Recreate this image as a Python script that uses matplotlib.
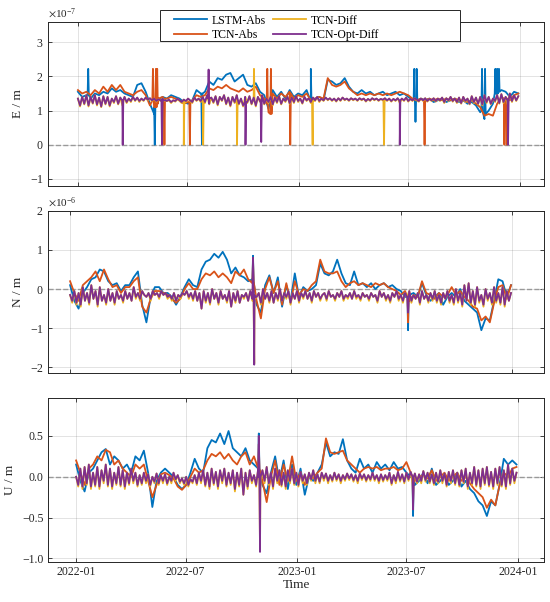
import numpy as np
import pandas as pd
import matplotlib
matplotlib.use("Agg")
import matplotlib.pyplot as plt
import matplotlib.dates as mdates
from matplotlib.ticker import ScalarFormatter
from matplotlib.patches import Rectangle

plt.rcParams['font.family'] = ['Liberation Serif', 'DejaVu Serif']
plt.rcParams['mathtext.fontset'] = 'stix'

# ---- data from 2022-01-01: Abs models weekly, Diff models every 3.5 days ----
labels = ['LSTM-Abs', 'TCN-Abs', 'TCN-Diff', 'TCN-Opt-Diff']
colors = ['#0072BD', '#D95319', '#EDB120', '#7E2F8E']
steps = [7, 7, 3.5, 3.5]

# E component, x 1e-7 m
e_lstm = [1.55, 1.40, 1.45, 1.35, 1.50, 1.45, 1.55, 1.50, 1.65, 1.55,
          1.60, 1.50, 1.45, 1.40, 1.75, 1.80, 1.55, 1.20, 0.90, 1.30,
          1.40, 1.35, 1.45, 1.40, 1.35, 1.25, 1.20, 1.30, 1.60, 1.50,
          1.55, 1.85, 1.75, 1.95, 1.90, 2.05, 2.10, 1.85, 1.95, 2.05,
          1.75, 1.70, 1.80, 1.55, 1.45, 1.05, 1.60, 1.40, 1.55, 1.35,
          1.60, 1.40, 1.50, 1.45, 1.60, 1.25, 1.35, 1.40, 1.30, 1.90,
          1.85, 1.75, 1.80, 1.95, 1.70, 1.55, 1.50, 1.60, 1.50, 1.55,
          1.45, 1.50, 1.55, 1.45, 1.50, 1.55, 1.45, 1.50, 1.40, 1.30,
          1.30, 1.35, 1.30, 1.35, 1.25, 1.30, 1.35, 1.25, 1.30, 1.35,
          1.25, 1.30, 1.20, 1.25, 1.15, 0.95, 0.75, 1.00, 1.20, 1.45,
          1.60, 1.55, 1.40, 1.55, 1.50]
e_tcn = [1.60, 1.50, 1.55, 1.45, 1.60, 1.50, 1.70, 1.55, 1.75, 1.60,
         1.75, 1.55, 1.50, 1.45, 1.55, 1.60, 1.45, 1.15, 1.10, 1.35,
         1.40, 1.35, 1.40, 1.35, 1.30, 1.20, 1.25, 1.30, 1.45, 1.40,
         1.45, 1.65, 1.60, 1.70, 1.65, 1.75, 1.65, 1.60, 1.55, 1.65,
         1.55, 1.60, 1.70, 1.45, 1.35, 0.95, 1.50, 1.35, 1.50, 1.40,
         1.55, 1.35, 1.45, 1.40, 1.50, 1.30, 1.35, 1.40, 1.35, 1.95,
         1.75, 1.70, 1.75, 1.85, 1.65, 1.55, 1.45, 1.50, 1.45, 1.50,
         1.45, 1.50, 1.45, 1.50, 1.45, 1.50, 1.55, 1.50, 1.45, 1.35,
         1.30, 1.35, 1.30, 1.35, 1.30, 1.35, 1.30, 1.35, 1.30, 1.35,
         1.30, 1.30, 1.25, 1.30, 1.20, 1.10, 0.85, 0.90, 0.85, 1.20,
         1.40, 1.35, 1.30, 1.45, 1.50]
e_diff = [1.35, 1.12, 1.40, 1.18, 1.45, 1.12, 1.40, 1.20, 1.45, 1.15,
          1.38, 1.10, 1.42, 1.18, 1.40, 1.12, 1.35, 1.22, 1.42, 1.18,
          1.38, 1.15, 1.40, 1.22, 1.35, 1.25, 1.40, 1.28, 1.38, 1.25,
          1.35, 1.28, 1.38, 1.30, 1.36, 1.28, 1.35, 1.26, 1.33, 1.28,
          1.35, 1.28, 1.28, 1.30, 1.22, 1.30, 1.26, 1.35, 1.28, 1.22,
          1.32, 1.25, 1.35, 1.28, 1.22, 1.38, 1.28, 1.35, 1.25, 1.40,
          1.22, 1.45, 1.18, 1.38, 1.22, 1.42, 1.15, 1.40, 1.28, 1.45,
          1.18, 1.38, 1.12, 1.40, 1.22, 1.45, 1.18, 1.35, 1.12, 1.40,
          1.22, 1.42, 1.18, 1.38, 1.12, 1.40, 1.25, 1.45, 1.18, 1.35,
          1.22, 1.40, 1.15, 1.38, 1.22, 1.42, 1.18, 1.35, 1.25, 1.40,
          1.20, 1.38, 1.22, 1.42, 1.25, 1.35, 1.20, 1.40, 1.28, 1.36,
          1.22, 1.38, 1.28, 1.40, 1.25, 1.35, 1.28, 1.38, 1.30, 1.36,
          1.28, 1.35, 1.26, 1.36, 1.28, 1.38, 1.30, 1.35, 1.28, 1.36,
          1.30, 1.35, 1.28, 1.36, 1.30, 1.35, 1.26, 1.34, 1.28, 1.36,
          1.30, 1.35, 1.28, 1.34, 1.30, 1.36, 1.28, 1.35, 1.26, 1.34,
          1.28, 1.36, 1.22, 1.35, 1.28, 1.38, 1.26, 1.34, 1.28, 1.36,
          1.30, 1.26, 1.35, 1.28, 1.36, 1.26, 1.34, 1.28, 1.36, 1.26,
          1.35, 1.28, 1.38, 1.22, 1.36, 1.28, 1.40, 1.26, 1.35, 1.22,
          1.38, 1.20, 1.40, 1.25, 1.35, 1.18, 1.42, 1.22, 1.38, 1.18,
          1.40, 1.15, 1.45, 1.22, 1.40, 1.18, 1.35, 1.25, 1.45, 1.20,
          1.48, 1.22, 1.40, 1.18, 1.50, 1.25, 1.45, 1.28, 1.42]
e_opt = [1.35, 1.15, 1.40, 1.20, 1.45, 1.15, 1.40, 1.22, 1.45, 1.18,
         1.38, 1.12, 1.42, 1.20, 1.40, 1.15, 1.35, 1.25, 1.42, 1.20,
         1.38, 1.18, 1.40, 1.25, 1.35, 1.28, 1.40, 1.30, 1.38, 1.28,
         1.35, 1.30, 1.38, 1.32, 1.36, 1.30, 1.35, 1.28, 1.33, 1.30,
         1.35, 1.30, 1.28, 1.32, 1.25, 1.30, 1.28, 1.35, 1.30, 1.25,
         1.32, 1.28, 1.35, 1.30, 1.25, 1.38, 1.30, 1.35, 1.28, 1.40,
         1.25, 1.45, 1.20, 1.38, 1.25, 1.42, 1.18, 1.40, 1.30, 1.45,
         1.20, 1.38, 1.15, 1.40, 1.25, 1.45, 1.20, 1.35, 1.15, 1.40,
         1.25, 1.42, 1.20, 1.38, 1.15, 1.40, 1.28, 1.45, 1.20, 1.35,
         1.25, 1.40, 1.18, 1.38, 1.25, 1.42, 1.20, 1.35, 1.28, 1.40,
         1.22, 1.38, 1.25, 1.42, 1.28, 1.35, 1.22, 1.40, 1.30, 1.36,
         1.25, 1.38, 1.30, 1.40, 1.28, 1.35, 1.30, 1.38, 1.32, 1.36,
         1.30, 1.35, 1.28, 1.36, 1.30, 1.38, 1.32, 1.35, 1.30, 1.36,
         1.32, 1.35, 1.30, 1.36, 1.32, 1.35, 1.28, 1.34, 1.30, 1.36,
         1.32, 1.35, 1.30, 1.34, 1.32, 1.36, 1.30, 1.35, 1.28, 1.34,
         1.30, 1.36, 1.25, 1.35, 1.30, 1.38, 1.28, 1.34, 1.30, 1.36,
         1.32, 1.28, 1.35, 1.30, 1.36, 1.28, 1.34, 1.30, 1.36, 1.28,
         1.35, 1.30, 1.38, 1.25, 1.36, 1.30, 1.40, 1.28, 1.35, 1.25,
         1.38, 1.22, 1.40, 1.28, 1.35, 1.20, 1.42, 1.25, 1.38, 1.20,
         1.40, 1.18, 1.45, 1.25, 1.40, 1.20, 1.35, 1.28, 1.45, 1.22,
         1.48, 1.25, 1.40, 1.20, 1.50, 1.28, 1.45, 1.30, 1.42]

# N component, x 1e-6 m
n_lstm = [0.10, -0.30, -0.50, -0.10, 0.05, 0.25, 0.30, 0.50, 0.45, 0.20,
          0.10, 0.15, -0.05, 0.10, 0.10, 0.30, 0.45, -0.40, -0.85, -0.20,
          0.05, 0.05, -0.10, -0.10, -0.20, -0.40, -0.20, 0.05, 0.25, 0.10,
          0.05, 0.50, 0.70, 0.75, 0.90, 0.80, 0.95, 0.75, 0.40, 0.55,
          0.35, 0.30, 0.20, 0.25, -0.40, -0.60, 0.10, 0.35, -0.10, 0.30,
          -0.45, 0.10, -0.30, 0.40, -0.20, 0.05, -0.05, 0.00, 0.10, 0.65,
          0.40, 0.35, 0.45, 0.75, 0.40, 0.15, 0.10, 0.45, 0.10, 0.15,
          0.05, 0.15, 0.00, 0.10, 0.15, 0.05, 0.10, 0.00, -0.05, -0.20,
          -0.15, -0.10, -0.20, 0.15, -0.15, -0.30, -0.20, -0.10, -0.40, -0.20,
          -0.10, -0.20, 0.00, -0.30, -0.40, -0.50, -0.60, -1.05, -0.75, -0.80,
          -0.30, 0.25, 0.20, -0.20, 0.10]
n_tcn = [0.20, -0.10, -0.30, 0.10, 0.20, 0.30, 0.45, 0.20, 0.50, 0.25,
         0.05, 0.10, -0.10, 0.05, 0.05, 0.20, 0.30, -0.45, -0.60, -0.25,
         -0.05, -0.05, -0.10, -0.15, -0.25, -0.35, -0.25, 0.00, 0.15, 0.00,
         0.00, 0.25, 0.40, 0.35, 0.45, 0.30, 0.40, 0.30, 0.15, 0.45,
         0.35, 0.50, 0.25, 0.15, -0.30, -0.75, 0.00, 0.30, -0.10, 0.20,
         -0.40, 0.15, -0.35, 0.20, -0.15, 0.00, -0.05, 0.10, 0.20, 0.75,
         0.45, 0.40, 0.40, 0.45, 0.20, 0.05, 0.15, 0.20, 0.10, 0.15,
         0.10, 0.05, 0.15, 0.10, 0.15, 0.05, 0.00, -0.05, -0.15, -0.05,
         -0.30, -0.15, -0.20, 0.20, -0.10, -0.15, -0.25, -0.10, -0.20, -0.15,
         0.05, -0.15, -0.05, -0.20, -0.30, -0.45, -0.50, -0.80, -0.70, -0.85,
         -0.35, 0.05, 0.10, -0.25, 0.10]
n_diff = [-0.15, -0.35, -0.05, -0.40, -0.10, -0.45, 0.05, -0.30, -0.10, -0.40,
          0.10, -0.25, -0.05, -0.45, 0.05, -0.30, -0.15, -0.40, 0.00, -0.30,
          -0.10, -0.40, -0.05, -0.25, -0.15, -0.35, -0.05, -0.25, -0.10, -0.30,
          0.05, -0.25, -0.10, -0.30, -0.05, -0.15, -0.20, -0.10, -0.30, -0.05,
          -0.15, -0.10, -0.25, -0.05, -0.15, -0.10, -0.25, -0.15, -0.30, -0.10,
          -0.30, -0.15, -0.25, -0.10, -0.15, -0.05, -0.25, -0.10, -0.30, -0.05,
          -0.30, -0.10, -0.50, -0.05, -0.35, -0.10, -0.40, 0.00, -0.25, -0.10,
          -0.40, -0.05, -0.25, -0.15, -0.35, -0.05, -0.45, -0.10, -0.35, -0.05,
          -0.35, -0.15, -0.25, -0.10, -0.30, -0.05, -0.30, -0.15, -0.20, -0.10,
          -0.40, 0.00, -0.25, -0.10, -0.35, -0.05, -0.35, -0.10, -0.30, 0.00,
          -0.30, -0.10, -0.25, -0.05, -0.40, -0.10, -0.25, -0.05, -0.35, -0.10,
          -0.25, -0.05, -0.25, -0.10, -0.35, -0.05, -0.20, -0.10, -0.30, -0.15,
          -0.10, -0.30, -0.05, -0.20, -0.15, -0.30, -0.10, -0.20, -0.05, -0.30,
          -0.15, -0.25, -0.10, -0.25, -0.05, -0.25, -0.15, -0.30, -0.10, -0.20,
          -0.15, -0.30, -0.10, -0.20, -0.15, -0.35, -0.05, -0.20, -0.10, -0.30,
          -0.15, -0.35, -0.10, -0.20, -0.05, -0.30, -0.15, -0.35, -0.10, -0.20,
          -0.05, -0.35, -0.15, -0.25, -0.10, -0.40, -0.05, -0.25, -0.15, -0.35,
          -0.10, -0.30, -0.05, -0.35, -0.15, -0.40, -0.10, -0.25, -0.05, -0.35,
          -0.15, -0.40, 0.00, -0.35, -0.10, -0.45, 0.10, -0.30, 0.15, -0.40,
          -0.05, -0.45, 0.05, -0.35, -0.15, -0.45, 0.00, -0.30, -0.10, -0.40,
          0.05, -0.35, -0.10, -0.40, 0.05, -0.45, -0.05, -0.30, -0.10]
n_opt = [-0.15, -0.30, -0.05, -0.35, -0.10, -0.40, 0.05, -0.30, -0.10, -0.35,
         0.10, -0.25, -0.05, -0.40, 0.05, -0.30, -0.15, -0.35, 0.00, -0.30,
         -0.10, -0.35, -0.05, -0.25, -0.15, -0.30, -0.05, -0.25, -0.10, -0.30,
         0.05, -0.20, -0.10, -0.25, -0.05, -0.15, -0.20, -0.10, -0.25, -0.05,
         -0.15, -0.10, -0.20, -0.05, -0.15, -0.10, -0.20, -0.15, -0.25, -0.10,
         -0.30, -0.15, -0.20, -0.10, -0.15, -0.05, -0.20, -0.10, -0.25, -0.05,
         -0.30, -0.10, -0.50, -0.05, -0.30, -0.10, -0.35, 0.00, -0.25, -0.10,
         -0.35, -0.05, -0.25, -0.15, -0.30, -0.05, -0.45, -0.10, -0.30, -0.05,
         -0.35, -0.15, -0.20, -0.10, -0.30, -0.05, -0.25, -0.15, -0.20, -0.10,
         -0.35, 0.00, -0.25, -0.10, -0.30, -0.05, -0.35, -0.10, -0.25, 0.00,
         -0.30, -0.10, -0.20, -0.05, -0.35, -0.10, -0.25, -0.05, -0.30, -0.10,
         -0.20, -0.05, -0.25, -0.10, -0.30, -0.05, -0.20, -0.10, -0.25, -0.15,
         -0.10, -0.25, -0.05, -0.20, -0.15, -0.25, -0.10, -0.20, -0.05, -0.25,
         -0.15, -0.20, -0.10, -0.25, -0.05, -0.20, -0.15, -0.25, -0.10, -0.20,
         -0.15, -0.25, -0.10, -0.20, -0.15, -0.30, -0.05, -0.20, -0.10, -0.25,
         -0.15, -0.30, -0.10, -0.20, -0.05, -0.25, -0.15, -0.30, -0.10, -0.20,
         -0.05, -0.30, -0.15, -0.25, -0.10, -0.35, -0.05, -0.25, -0.15, -0.30,
         -0.10, -0.25, -0.05, -0.30, -0.15, -0.35, -0.10, -0.25, -0.05, -0.30,
         -0.15, -0.35, 0.00, -0.30, -0.10, -0.40, 0.10, -0.30, 0.15, -0.35,
         -0.05, -0.40, 0.05, -0.30, -0.15, -0.40, 0.00, -0.25, -0.10, -0.35,
         0.05, -0.30, -0.10, -0.35, 0.05, -0.40, -0.05, -0.30, -0.10]

# U component, m
u_lstm = [0.15, -0.05, -0.18, 0.05, 0.10, 0.20, 0.30, 0.34, 0.15, 0.25,
          0.20, 0.10, 0.15, 0.05, 0.25, 0.20, 0.32, 0.05, -0.37, -0.05,
          0.05, 0.10, 0.05, 0.00, -0.10, -0.15, -0.10, 0.05, 0.22, 0.10,
          0.05, 0.35, 0.45, 0.42, 0.53, 0.40, 0.56, 0.35, 0.30, 0.25,
          0.35, 0.20, 0.15, 0.10, -0.10, -0.20, 0.05, 0.25, -0.05, 0.20,
          -0.15, 0.15, -0.10, 0.10, -0.22, 0.00, -0.05, 0.05, 0.15, 0.42,
          0.25, 0.30, 0.28, 0.46, 0.20, 0.10, 0.05, 0.22, 0.10, 0.15,
          0.05, 0.18, 0.10, 0.15, 0.08, 0.18, 0.10, 0.12, 0.05, 0.00,
          -0.10, -0.05, 0.05, -0.08, 0.10, -0.10, -0.05, 0.02, -0.10, -0.05,
          0.05, -0.12, -0.05, -0.15, -0.20, -0.30, -0.35, -0.48, -0.30, -0.35,
          -0.10, 0.22, 0.15, 0.20, 0.15]
u_tcn = [0.20, 0.05, -0.10, 0.10, 0.15, 0.25, 0.20, 0.33, 0.30, 0.15,
         0.20, 0.10, 0.05, 0.00, 0.15, 0.10, 0.15, -0.05, -0.25, -0.10,
         0.03, 0.05, 0.02, -0.02, -0.12, -0.16, -0.10, 0.00, 0.10, 0.05,
         0.08, 0.20, 0.28, 0.25, 0.30, 0.22, 0.28, 0.20, 0.15, 0.25,
         0.30, 0.15, 0.25, 0.10, -0.05, -0.31, 0.00, 0.20, -0.10, 0.15,
         -0.05, 0.25, -0.05, 0.05, -0.10, 0.02, -0.02, 0.05, 0.10, 0.47,
         0.30, 0.28, 0.30, 0.32, 0.20, 0.15, 0.10, 0.05, 0.10, 0.12,
         0.10, 0.12, 0.08, 0.10, 0.10, 0.12, 0.08, 0.10, 0.18, 0.05,
         -0.05, 0.00, 0.02, -0.02, 0.08, -0.05, 0.00, 0.05, -0.05, 0.00,
         0.05, -0.05, 0.00, -0.08, -0.15, -0.20, -0.25, -0.38, -0.28, -0.35,
         -0.10, 0.05, 0.00, 0.10, 0.12]
u_diff = [0.00, -0.12, 0.10, -0.15, 0.12, -0.10, 0.15, -0.15, 0.05, -0.12,
          0.12, -0.15, 0.08, -0.08, 0.15, -0.12, 0.10, -0.15, 0.05, -0.10,
          0.12, -0.12, 0.08, -0.15, 0.05, -0.10, 0.10, -0.08, 0.05, -0.12,
          0.02, -0.10, 0.05, -0.08, 0.03, -0.12, 0.00, -0.08, 0.04, -0.10,
          0.02, -0.08, 0.03, -0.10, 0.00, -0.08, 0.05, -0.05, 0.02, -0.08,
          -0.02, -0.10, 0.00, -0.12, -0.03, -0.08, 0.02, -0.10, 0.05, -0.08,
          0.08, -0.12, 0.05, -0.15, 0.10, -0.10, 0.06, -0.15, 0.08, -0.08,
          0.10, -0.12, 0.05, -0.10, 0.08, -0.18, 0.05, -0.12, 0.10, -0.22,
          0.05, -0.15, 0.08, -0.08, 0.02, -0.12, 0.10, -0.18, 0.08, -0.08,
          0.12, -0.10, 0.05, -0.15, 0.10, -0.08, 0.08, -0.12, 0.05, -0.15,
          0.08, -0.08, 0.10, -0.10, 0.05, -0.12, 0.06, -0.08, 0.03, -0.10,
          0.05, -0.05, 0.08, -0.08, 0.03, -0.08, 0.05, -0.05, 0.04, -0.08,
          0.02, -0.06, 0.05, -0.05, 0.03, -0.08, 0.02, -0.05, 0.04, -0.04,
          0.03, -0.06, 0.02, -0.08, 0.04, -0.04, 0.03, -0.06, 0.02, -0.05,
          0.05, -0.05, 0.02, -0.08, 0.03, -0.06, 0.02, -0.05, 0.05, -0.10,
          0.02, -0.08, 0.06, -0.06, 0.03, -0.08, 0.05, -0.05, 0.06, -0.08,
          0.04, -0.08, 0.03, -0.08, 0.07, -0.06, 0.05, -0.08, 0.03, -0.10,
          0.05, -0.08, 0.08, -0.08, 0.04, -0.12, 0.06, -0.08, 0.08, -0.10,
          0.05, -0.12, 0.08, -0.08, 0.10, -0.15, 0.05, -0.10, 0.12, -0.12,
          0.08, -0.15, 0.10, -0.10, 0.12, -0.12, 0.06, -0.15, 0.10, -0.10,
          0.12, -0.12, 0.08, -0.15, 0.15, -0.10, 0.10, -0.08, 0.05]
u_opt = [0.00, -0.10, 0.10, -0.12, 0.12, -0.08, 0.15, -0.12, 0.05, -0.10,
         0.12, -0.12, 0.08, -0.05, 0.15, -0.10, 0.10, -0.12, 0.05, -0.08,
         0.12, -0.10, 0.08, -0.12, 0.05, -0.08, 0.10, -0.05, 0.05, -0.10,
         0.02, -0.08, 0.05, -0.05, 0.03, -0.10, 0.00, -0.06, 0.04, -0.08,
         0.02, -0.05, 0.03, -0.08, 0.00, -0.05, 0.05, -0.03, 0.02, -0.06,
         -0.02, -0.08, 0.00, -0.10, -0.03, -0.06, 0.02, -0.08, 0.05, -0.05,
         0.08, -0.10, 0.05, -0.12, 0.10, -0.08, 0.06, -0.12, 0.08, -0.05,
         0.10, -0.10, 0.05, -0.08, 0.08, -0.15, 0.05, -0.10, 0.10, -0.22,
         0.05, -0.12, 0.08, -0.05, 0.02, -0.10, 0.10, -0.15, 0.08, -0.05,
         0.12, -0.08, 0.05, -0.12, 0.10, -0.05, 0.08, -0.10, 0.05, -0.12,
         0.08, -0.05, 0.10, -0.08, 0.05, -0.10, 0.06, -0.05, 0.03, -0.08,
         0.05, -0.03, 0.08, -0.05, 0.03, -0.06, 0.05, -0.02, 0.04, -0.05,
         0.02, -0.04, 0.05, -0.03, 0.03, -0.05, 0.02, -0.03, 0.04, -0.02,
         0.03, -0.04, 0.02, -0.05, 0.04, -0.02, 0.03, -0.04, 0.02, -0.03,
         0.05, -0.03, 0.02, -0.05, 0.03, -0.04, 0.02, -0.03, 0.05, -0.08,
         0.02, -0.05, 0.06, -0.04, 0.03, -0.06, 0.05, -0.03, 0.06, -0.05,
         0.04, -0.06, 0.03, -0.05, 0.07, -0.04, 0.05, -0.06, 0.03, -0.08,
         0.05, -0.06, 0.08, -0.05, 0.04, -0.10, 0.06, -0.05, 0.08, -0.08,
         0.05, -0.10, 0.08, -0.06, 0.10, -0.12, 0.05, -0.08, 0.12, -0.10,
         0.08, -0.12, 0.10, -0.08, 0.12, -0.10, 0.06, -0.12, 0.10, -0.08,
         0.12, -0.10, 0.08, -0.12, 0.15, -0.08, 0.10, -0.05, 0.05]

# single-day outliers: (date, outlier value, value around it)
e_spikes = [
    [('2022-01-18', 2.22, 1.45), ('2022-05-08', 0.0, 1.1), ('2022-07-25', 0.0, 1.5),
     ('2023-01-21', 2.22, 1.3), ('2023-07-11', 2.22, 1.35), ('2023-07-13', 0.67, 1.3),
     ('2023-07-15', 2.22, 1.3), ('2023-10-31', 2.22, 1.0), ('2023-11-05', 2.22, 0.9),
     ('2023-11-22', 2.22, 1.5), ('2023-11-25', 2.22, 1.5), ('2023-11-28', 2.22, 1.55)],
    [('2022-05-05', 2.22, 1.3), ('2022-05-10', 2.22, 1.1), ('2022-05-12', 2.22, 1.2),
     ('2022-05-24', 0.0, 1.35), ('2022-07-05', 0.0, 1.25), ('2022-11-10', 2.22, 1.2),
     ('2022-11-16', 2.22, 0.9), ('2022-12-18', 0.0, 1.5), ('2023-07-28', 0.0, 1.3),
     ('2023-12-07', 0.0, 1.35), ('2023-12-11', 0.0, 1.35)],
    [('2022-06-25', 0.0, 1.3), ('2022-07-27', 0.0, 1.3), ('2022-09-21', 0.0, 1.3),
     ('2022-10-19', 2.22, 1.3), ('2023-01-24', 0.0, 1.3), ('2023-05-22', 0.0, 1.3)],
    [('2022-03-16', 0.0, 1.3), ('2022-05-20', 0.0, 1.3), ('2022-08-05', 2.2, 1.35),
     ('2022-10-05', 0.0, 1.25), ('2022-10-31', 0.08, 1.3), ('2023-06-17', 0.0, 1.3),
     ('2023-12-13', 0.0, 1.3)],
]
n_spikes = [
    [('2022-10-30', 0.85, 0.2), ('2023-07-13', -1.05, -0.2)],
    [('2022-10-30', 0.75, 0.2), ('2023-07-13', -0.85, -0.2)],
    [('2022-11-01', -1.9, -0.25)],
    [('2022-10-30', 0.80, -0.2), ('2022-11-01', -1.93, -0.2), ('2023-07-13', -0.6, -0.2)],
]
u_spikes = [
    [('2022-10-30', 0.53, 0.1), ('2023-07-12', -0.48, 0.0)],
    [('2022-10-30', 0.40, 0.1), ('2023-07-12', -0.35, 0.0)],
    [('2022-11-01', -0.90, -0.05)],
    [('2022-10-30', 0.50, 0.0), ('2022-11-01', -0.92, 0.0), ('2023-07-12', -0.40, 0.0)],
]

panels = [
    dict(series=[e_lstm, e_tcn, e_diff, e_opt], spikes=e_spikes, scale=1e-7,
         ylabel='E / m', ylim=(-1.2, 3.6), yticks=[-1, 0, 1, 2, 3],
         xlim=('2021-11-12', '2024-02-11')),
    dict(series=[n_lstm, n_tcn, n_diff, n_opt], spikes=n_spikes, scale=1e-6,
         ylabel='N / m', ylim=(-2.15, 2.0), yticks=[-2, -1, 0, 1, 2],
         xlim=('2021-11-25', '2024-02-23')),
    dict(series=[u_lstm, u_tcn, u_diff, u_opt], spikes=u_spikes, scale=1.0,
         ylabel='U / m', ylim=(-1.04, 0.96), yticks=[-1, -0.5, 0, 0.5],
         xlim=('2021-11-15', '2024-02-14')),
]
xticks = pd.to_datetime(['2022-01-01', '2022-07-01', '2023-01-01', '2023-07-01', '2024-01-01'])


def build(vals, spikes, step):
    t = pd.date_range('2022-01-01', periods=len(vals), freq=pd.Timedelta(days=step))
    s = pd.Series(vals, index=t, dtype=float)
    one = pd.Timedelta(days=1)
    for d, peak, base in spikes:
        d = pd.Timestamp(d)
        s = pd.concat([s, pd.Series([base, peak, base], index=[d - one, d, d + one])])
    return s.sort_index(kind='mergesort')


fig = plt.figure(figsize=(5.5, 6.02), dpi=100)
rects = [[0.0867, 0.6915, 0.903, 0.2724],
         [0.0867, 0.3799, 0.903, 0.2701],
         [0.0867, 0.0669, 0.903, 0.2714]]
dark = '#262626'
handles = []
for k, (p, r) in enumerate(zip(panels, rects)):
    ax = fig.add_axes(r)
    ax.axhline(0, color='#999999', ls='--', lw=1.0, zorder=1.5)
    for j in range(4):
        s = build(p['series'][j], p['spikes'][j], steps[j])
        ln, = ax.plot(s.index, s.values * p['scale'], color=colors[j], lw=1.3, zorder=2 + j * 0.1)
        if k == 0:
            handles.append(ln)
    sc = p['scale']
    ax.set_ylim(p['ylim'][0] * sc, p['ylim'][1] * sc)
    ax.set_yticks([v * sc for v in p['yticks']])
    if sc != 1.0:
        fmt = ScalarFormatter(useMathText=True)
        fmt.set_powerlimits((0, 0))
        ax.yaxis.set_major_formatter(fmt)
        ax.yaxis.get_offset_text().set_fontsize(8)
        ax.yaxis.get_offset_text().set_color(dark)
    ax.set_xlim(pd.Timestamp(p['xlim'][0]), pd.Timestamp(p['xlim'][1]))
    ax.set_xticks(xticks)
    ax.xaxis.set_major_formatter(mdates.DateFormatter('%Y-%m'))
    ax.grid(True, color=dark, alpha=0.15, lw=0.6)
    ax.set_axisbelow(True)
    ax.tick_params(direction='in', top=True, right=True, length=3, width=0.6,
                   color=dark, labelsize=8.5, labelcolor=dark, pad=3)
    for sp in ax.spines.values():
        sp.set_color(dark)
        sp.set_linewidth(0.7)
    ax.set_ylabel(p['ylabel'], fontsize=9.5, color=dark)
    if k < 2:
        ax.tick_params(labelbottom=False)
    else:
        ax.set_xlabel('Time', fontsize=9.5, color=dark, labelpad=1)

# legend box sits over the top axes edge
fig.patches.append(Rectangle((160 / 550, 1 - 41 / 602), 300 / 550, 31 / 602,
                             transform=fig.transFigure, facecolor='white',
                             edgecolor=dark, lw=0.7, zorder=4))
fig.legend(handles, labels, ncol=2, loc='upper left', bbox_to_anchor=(174 / 550, 1 - 14.5 / 602),
           frameon=False, fontsize=8.5, handlelength=2.8, handletextpad=0.42,
           columnspacing=0.6, labelspacing=0.2, borderpad=0, borderaxespad=0).set_zorder(5)

fig.savefig('out.png', dpi=100)
